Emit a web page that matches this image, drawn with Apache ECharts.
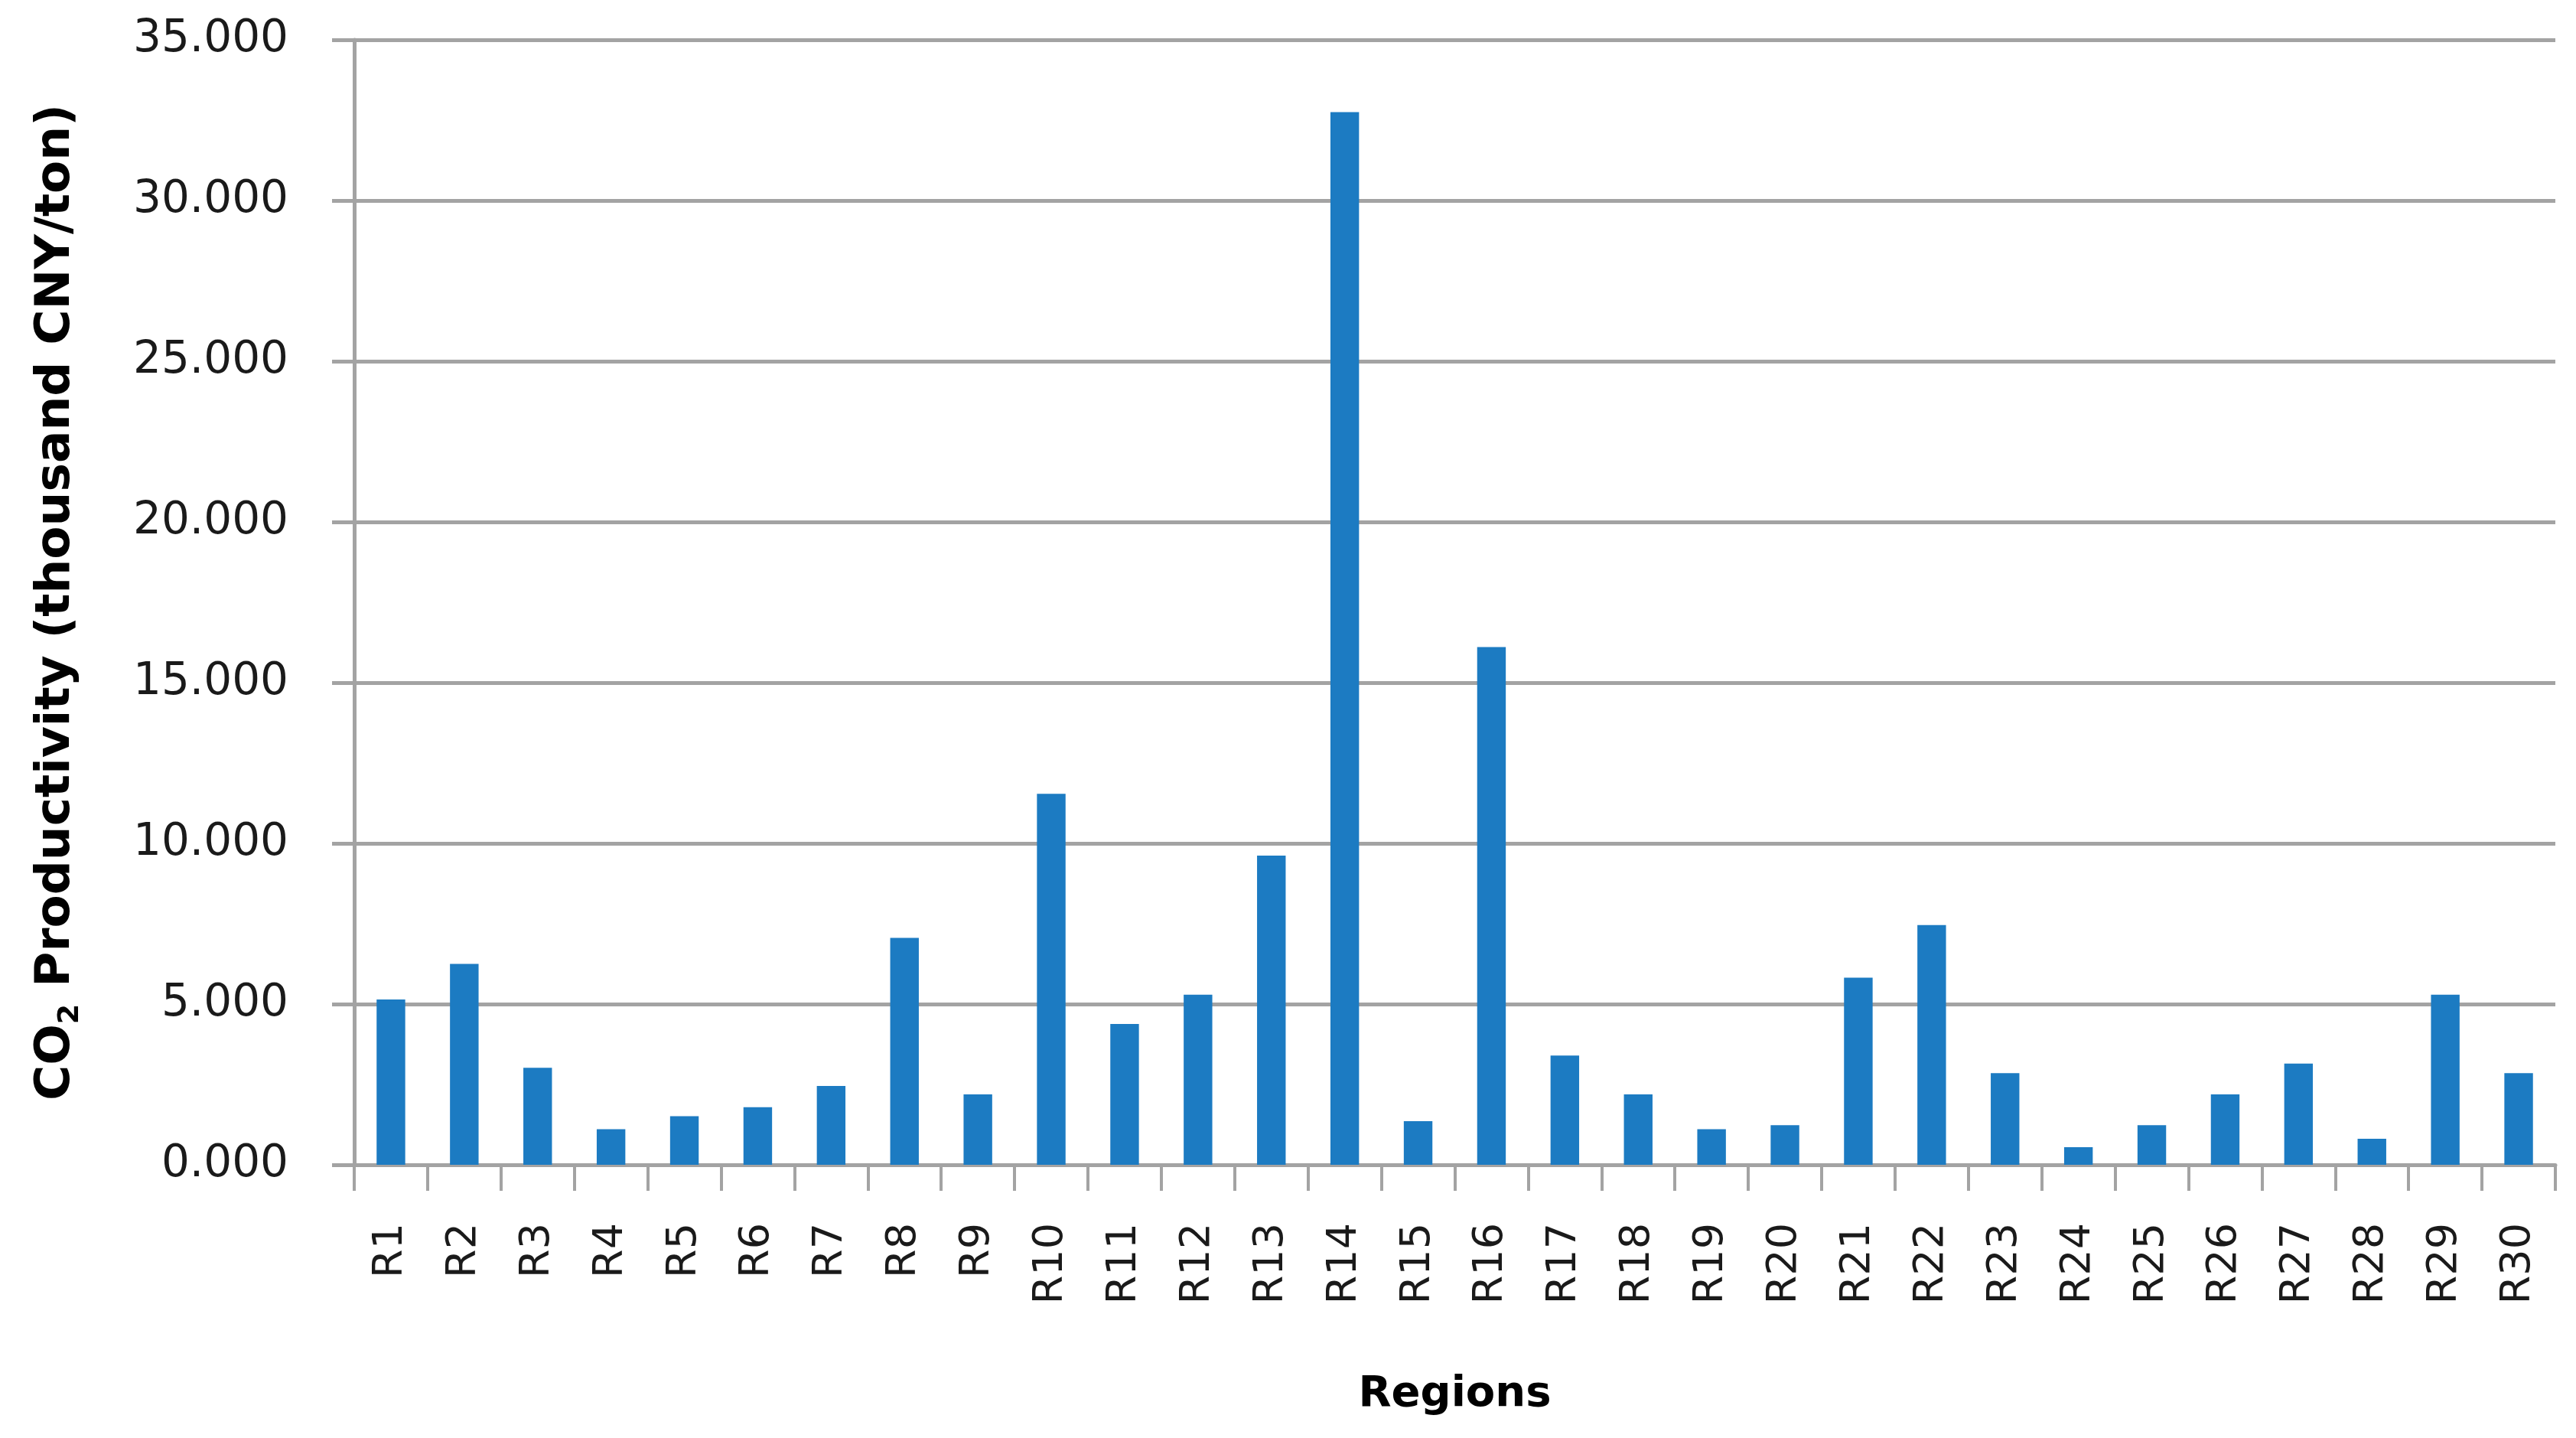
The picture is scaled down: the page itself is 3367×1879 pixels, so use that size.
<!DOCTYPE html>
<html>
<head>
<meta charset="utf-8">
<script src="https://cdn.jsdelivr.net/npm/echarts@6/dist/echarts.min.js"></script>
<style>
html,body{margin:0;padding:0;background:#fff;}
#chart{width:3367px;height:1879px;}
</style>
</head>
<body>
<div id="chart"></div>
<script>
const categories = ['R1','R2','R3','R4','R5','R6','R7','R8','R9','R10','R11','R12','R13','R14','R15','R16','R17','R18','R19','R20','R21','R22','R23','R24','R25','R26','R27','R28','R29','R30'];
const productivity = [5.14,6.25,3.02,1.11,1.51,1.79,2.45,7.06,2.19,11.54,4.38,5.29,9.62,32.75,1.36,16.11,3.40,2.19,1.11,1.23,5.82,7.46,2.85,0.55,1.23,2.19,3.15,0.81,5.29,2.85];
const yTicks = [0,5,10,15,20,25,30,35];
const xTitle = 'Regions';
const yTitle = 'CO{sub|2} Productivity (thousand CNY/ton)';

const chart = echarts.init(document.getElementById('chart'), null, {renderer:'canvas'});
const gridColor = '#a3a3a3';
const textColor = '#1a1a1a';
chart.setOption({
  backgroundColor: '#ffffff',
  animation: false,
  grid: {left: 463, right: 27, top: 52, bottom: 357, containLabel: false},
  xAxis: {
    type: 'category',
    data: categories,
    boundaryGap: true,
    name: xTitle,
    nameLocation: 'middle',
    nameGap: 272,
    nameTextStyle: {fontFamily: 'DejaVu Sans', fontWeight: 'bold', fontSize: 56, color: '#000000'},
    axisLine: {show: true, lineStyle: {color: gridColor, width: 5}},
    axisTick: {show: true, alignWithLabel: false, length: 34, lineStyle: {color: gridColor, width: 4}},
    axisLabel: {rotate: 90, margin: 76, interval: 0, fontFamily: 'DejaVu Sans', fontSize: 54, color: textColor},
    splitLine: {show: false}
  },
  yAxis: {
    type: 'value',
    min: yTicks[0],
    max: yTicks[yTicks.length - 1],
    interval: yTicks[1] - yTicks[0],
    name: yTitle,
    nameLocation: 'middle',
    nameGap: 352,
    nameTextStyle: {
      fontFamily: 'DejaVu Sans', fontWeight: 'bold', fontSize: 63, color: '#000000', lineHeight: 74,
      rich: {sub: {fontFamily: 'DejaVu Sans', fontWeight: 'bold', fontSize: 38, color: '#000000', verticalAlign: 'bottom', lineHeight: 74}}
    },
    axisLine: {show: true, lineStyle: {color: gridColor, width: 5}},
    axisTick: {show: true, length: 29, lineStyle: {color: gridColor, width: 5}},
    axisLabel: {margin: 86, fontFamily: 'DejaVu Sans', fontSize: 58, color: textColor,
      formatter: v => v.toFixed(3)},
    splitLine: {show: true, lineStyle: {color: gridColor, width: 5}}
  },
  series: [{
    type: 'bar',
    data: productivity,
    barWidth: '39%',
    itemStyle: {color: '#1c7bc2'}
  }]
});
</script>
</body>
</html>
